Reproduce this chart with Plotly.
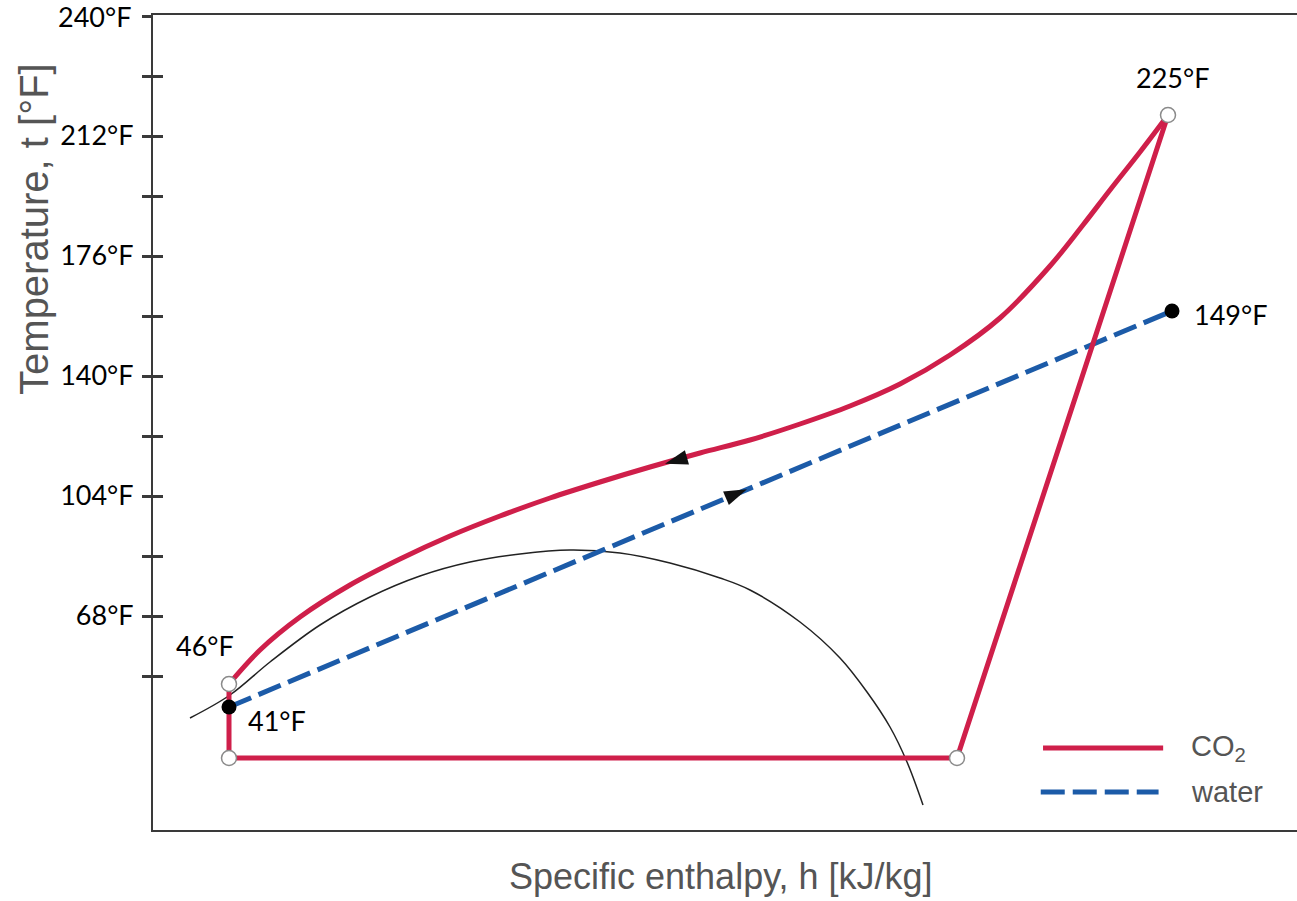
import plotly.graph_objects as go

# ---------------- data (h in kJ/kg-like units, T in °F axis units) ----------------
# CO2 cycle corner states
co2_state_h = [130.4, 421.6, 506.0, 130.4]          # A (after expansion), B (evap out), C (compressor out), D (gas cooler out)
co2_state_T = [25.4, 25.4, 218.3, 47.6]

# CO2 gas-cooler curve (C -> D)
gc_h = [506.0, 494.8, 482.8, 472.0, 458.8, 438.8, 418.8, 398.8, 378.8, 358.8, 338.8,
        318.8, 298.8, 278.8, 258.8, 238.8, 218.8, 198.8, 178.8, 158.8, 142.8, 130.4]
gc_T = [218.3, 207.2, 195.8, 185.3, 173.0, 157.4, 146.3, 137.6, 131.0, 125.6, 120.8,
        116.9, 112.7, 108.2, 103.4, 98.0, 92.0, 85.1, 77.3, 67.7, 57.8, 47.6]

# water heating line
water_h = [130.4, 507.6]
water_T = [40.7, 159.5]

# saturation dome
dome_h = [114.8, 130.8, 146.8, 166.8, 186.8, 206.8, 226.8, 246.8, 266.8, 286.8, 306.8,
          326.8, 338.8, 358.8, 374.8, 385.6, 394.8, 401.6, 408.0]
dome_T = [37.4, 44.3, 54.2, 65.3, 73.7, 80.0, 84.2, 86.6, 87.8, 86.9, 83.9,
          79.4, 75.8, 66.2, 55.4, 45.2, 34.7, 24.2, 11.3]

# flow direction arrows (tip position; direction as clockwise angle from "up")
arrow_h = [304.8, 337.6]
arrow_T = [113.7, 106.0]
arrow_dir = [254, 67]

# point labels
label_text = ["225°F", "149°F", "46°F", "41°F"]
label_h = [507.6, 515.6, 120.8, 137.2]
label_T = [229.7, 158.6, 59.3, 36.8]

# y-axis ticks
tick_vals = [248, 230, 212, 194, 176, 158, 140, 122, 104, 86, 68, 50]
tick_text = ["240°F", "", "212°F", "", "176°F", "", "140°F", "", "104°F", "", "68°F", ""]

X_RANGE = [100, 557.6]
Y_RANGE = [3.8, 248.3]

RED = "#CF1F4A"
BLUE = "#1C5BA8"
AXIS = "#3a3a3a"
TITLE_GRAY = "#555555"
DASH = "24px,8px"

fig = go.Figure()

# saturation dome
fig.add_trace(go.Scatter(x=dome_h, y=dome_T, mode="lines",
                         line=dict(color="#222222", width=1.5, shape="spline", smoothing=1.0),
                         hoverinfo="skip", showlegend=False))

# water
fig.add_trace(go.Scatter(x=water_h, y=water_T, mode="lines",
                         line=dict(color=BLUE, width=5, dash=DASH), hoverinfo="skip", showlegend=False))

# CO2 straight parts: D -> A -> B -> C
fig.add_trace(go.Scatter(x=[co2_state_h[3], co2_state_h[0], co2_state_h[1], co2_state_h[2]],
                         y=[co2_state_T[3], co2_state_T[0], co2_state_T[1], co2_state_T[2]],
                         mode="lines", line=dict(color=RED, width=5), hoverinfo="skip", showlegend=False))
# CO2 gas cooler curve
fig.add_trace(go.Scatter(x=gc_h, y=gc_T, mode="lines",
                         line=dict(color=RED, width=5, shape="spline", smoothing=1.0),
                         hoverinfo="skip", showlegend=False))

# arrows
fig.add_trace(go.Scatter(x=arrow_h, y=arrow_T, mode="markers",
                         marker=dict(symbol="arrow", angle=arrow_dir, angleref="up",
                                     size=24, color="#111111"),
                         hoverinfo="skip", showlegend=False))

# water end points
fig.add_trace(go.Scatter(x=water_h, y=water_T, mode="markers",
                         marker=dict(size=15, color="black"), hoverinfo="skip", showlegend=False))
# CO2 state points
fig.add_trace(go.Scatter(x=co2_state_h, y=co2_state_T, mode="markers",
                         marker=dict(size=15, color="white", line=dict(color="#8a8a8a", width=1.5)),
                         hoverinfo="skip", showlegend=False))

# dummy trace for the overlaid tick axis
fig.add_trace(go.Scatter(x=[X_RANGE[0]], y=[Y_RANGE[0]], yaxis="y2", mode="markers",
                         marker=dict(opacity=0), hoverinfo="skip", showlegend=False))

annotations = []
for t, h, T in zip(label_text, label_h, label_T):
    annotations.append(dict(x=h, y=T, xref="x", yref="y", text=t, showarrow=False,
                            xanchor="left" if t in ("149°F", "41°F") else "center", yanchor="middle",
                            font=dict(family="Lato", size=27, color="black")))

# top tick label (drawn as annotation so it is not dropped at the axis end)
annotations.append(dict(x=-0.0175, y=tick_vals[0], xref="paper", yref="y", text=tick_text[0],
                        showarrow=False, xanchor="right", yanchor="middle",
                        font=dict(family="Lato", size=27, color="black")))

# axis titles
annotations.append(dict(x=-0.1035, y=0.737, xref="paper", yref="paper", text="Temperature, t [°F]",
                        textangle=-90, showarrow=False, xanchor="center", yanchor="middle",
                        font=dict(family="Liberation Sans", size=40, color=TITLE_GRAY)))
annotations.append(dict(x=0.4965, y=-0.0565, xref="paper", yref="paper", text="Specific enthalpy, h [kJ/kg]",
                        showarrow=False, xanchor="center", yanchor="middle",
                        font=dict(family="Liberation Sans", size=36, color=TITLE_GRAY)))

# legend (manual)
annotations.append(dict(x=0.906, y=0.1007, xref="paper", yref="paper", text="CO<sub>2</sub>",
                        xanchor="left", yanchor="middle",
                        showarrow=False, font=dict(family="Liberation Sans", size=29, color=TITLE_GRAY)))
annotations.append(dict(x=0.906, y=0.0467, xref="paper", yref="paper", text="water",
                        xanchor="left", yanchor="middle",
                        showarrow=False, font=dict(family="Liberation Sans", size=29, color=TITLE_GRAY)))
shapes = [
    dict(type="line", xref="paper", yref="paper", x0=0.778, x1=0.883, y0=0.1007, y1=0.1007,
         line=dict(color=RED, width=5)),
    dict(type="line", xref="paper", yref="paper", x0=0.776, x1=0.879, y0=0.0467, y1=0.0467,
         line=dict(color=BLUE, width=5, dash=DASH)),
]

tick_text_axis = [""] + tick_text[1:]

fig.update_layout(
    width=1297, height=901,
    margin=dict(l=153, r=0, t=15, b=71),
    plot_bgcolor="white", paper_bgcolor="white",
    xaxis=dict(range=X_RANGE, showline=True, linecolor=AXIS, linewidth=2, mirror=True,
               showticklabels=False, ticks="", showgrid=False, zeroline=False),
    yaxis=dict(range=Y_RANGE, showline=True, linecolor=AXIS, linewidth=2, mirror=False,
               tickmode="array", tickvals=tick_vals, ticktext=tick_text_axis, ticks="outside",
               ticklen=9, tickwidth=2.5, tickcolor=AXIS, ticklabelstandoff=3,
               tickfont=dict(family="Lato", size=27, color="black"),
               showgrid=False, zeroline=False),
    yaxis2=dict(range=Y_RANGE, overlaying="y", side="left", anchor="x",
                tickmode="array", tickvals=tick_vals, ticks="inside", ticklen=10, tickwidth=2.5,
                tickcolor=AXIS, showticklabels=False, showline=False, showgrid=False, zeroline=False),
    annotations=annotations,
    shapes=shapes,
    showlegend=False,
)

fig.write_html("out.html", config={"displayModeBar": False},
               post_script="document.body.style.margin='0';")
